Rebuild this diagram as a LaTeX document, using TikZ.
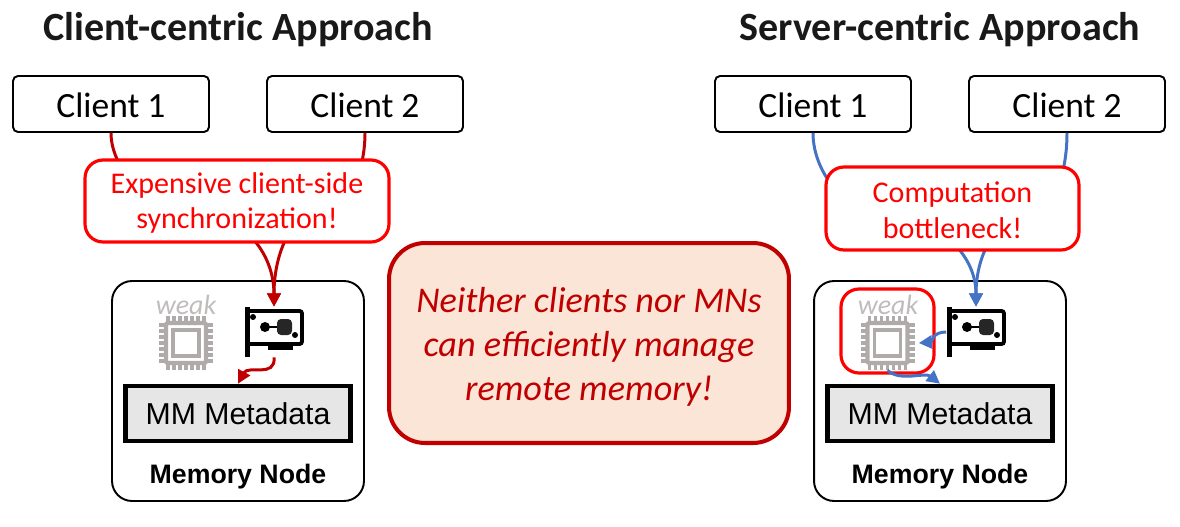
\documentclass[tikz,border=0pt]{standalone}
\usepackage{fontspec}
\usepackage{xcolor}
\usetikzlibrary{arrows.meta, positioning}
\setmainfont{Carlito}
\newfontfamily\arialfont{Liberation Sans}
\definecolor{wineRed}{HTML}{C00000}
\definecolor{blueLine}{HTML}{4472C4}
\definecolor{chipGray}{HTML}{AFABAB}
\definecolor{metaGray}{HTML}{E7E6E6}
\definecolor{alertFill}{HTML}{FBE5D6}
\tikzset{
    title/.style={font=\fontsize{22.8}{26}\selectfont\bfseries, text=black!90},
    client/.style={draw, rectangle, rounded corners=0.1cm, line width=1.1pt, minimum width=3.92cm, minimum height=1.12cm, fill=white},
    clienttext/.style={font=\fontsize{20.2}{24}\selectfont},
    callout/.style={draw=red, rectangle, rounded corners=0.36cm, line width=1.8pt, fill=white},
    callouttext/.style={text=red, align=center, font=\fontsize{17.1}{20.4}\selectfont},
    memnode/.style={draw, rectangle, rounded corners=0.4cm, line width=1.1pt, minimum width=5.04cm, minimum height=4.4cm},
    metadata/.style={draw, rectangle, line width=2.6pt, fill=metaGray, minimum width=4.5cm, minimum height=1.1cm, font=\arialfont\fontsize{17.2}{20}\selectfont},
    memlabel/.style={font=\arialfont\fontsize{15.2}{18}\selectfont\bfseries},
    weaklabel/.style={text=chipGray!80, font=\fontsize{15.9}{18}\selectfont\itshape},
    iconbox/.style={rectangle, inner sep=0pt, minimum width=1.18cm, minimum height=1cm},
    chipbox/.style={rectangle, inner sep=0pt, minimum width=1.24cm, minimum height=1.08cm},
    redflow/.style={draw=wineRed, line width=1.7pt, -{Triangle[length=7.5pt, width=7.5pt]}},
    blueflow/.style={draw=blueLine, line width=1.7pt, -{Triangle[length=7.5pt, width=7.5pt]}},
    plainred/.style={draw=wineRed, line width=1.7pt},
    plainblue/.style={draw=blueLine, line width=1.7pt},
    chipicon/.pic={
        \draw[chipGray, line width=2.4pt, rounded corners=0.04cm, fill=white] (-20,-20) rectangle (20,20);
        \draw[chipGray, line width=2pt] (-13,-13) rectangle (13,13);
        \foreach \k in {-18,-12,-6,0,6,12,18} {
            \draw[chipGray, line width=2pt] (\k,-27) -- (\k,-20);
            \draw[chipGray, line width=2pt] (\k,20) -- (\k,27);
            \draw[chipGray, line width=2pt] (-27,\k) -- (-20,\k);
            \draw[chipGray, line width=2pt] (20,\k) -- (27,\k);
        }
    },
    nicicon/.pic={
        \fill[black] (-29,-25) rectangle (-24,25);
        \draw[black, line width=2.2pt, rounded corners=0.05cm] (-24,-21) -- (28,-21) -- (28,12) -- (-24,12);
        \fill[black] (-6,13) rectangle (19,18);
        \fill[black] (-9,-5) circle (5);
        \fill[black!85, rounded corners=0.08cm] (3,-13) rectangle (18,3);
        \draw[black, line width=1.2pt] (-9,-5) -- (3,-5);
        \fill[black] (-21,-15) circle (3);
        \fill[black] (21,3) circle (3);
    }
}
\begin{document}
\begin{tikzpicture}[x=0.02cm, y=-0.02cm]
    \useasboundingbox (0,0) rectangle (1180,527);

    % left side
    \node[title] (titleL) at (238,30) {Client-centric Approach};
    \node[client] (clientLa) at (111,104) {};
    \node[client] (clientLb) at (365,104) {};
    \node[clienttext] (labelLa) at (111,105) {Client 1};
    \node[clienttext] (labelLb) at (365,105) {Client 2};
    \node[memnode] (memL) at (238,391) {};
    \node[metadata] (metaL) at (238,413.5) {MM Metadata};
    \node[memlabel] (memtextL) at (238,477) {Memory Node};
    \node[weaklabel] (weakL) at (186,305) {weak};
    \node[chipbox] (chipL) at (186,343) {};
    \node[iconbox] (nicL) at (274,332) {};
    \pic at (chipL) {chipicon};
    \pic at (nicL) {nicicon};

    \draw[plainred] (clientLa.south) .. controls (111,170) and (150,210) .. (192,210);
    \draw[redflow] (192,210) .. controls (232,210) and (274,245) .. (nicL.north);
    \draw[plainred] (clientLb.south) .. controls (365,170) and (350,210) .. (320,210);
    \draw[redflow] (320,210) .. controls (298,210) and (274,245) .. (nicL.north);
    \draw[redflow] (nicL.south) .. controls (276,378) and (248,365) .. (metaL.north);
    \node[callout, minimum width=6.08cm, minimum height=1.64cm] (costL) at (237,201) {};
    \node[callouttext] (costtextL) at (237,203) {Expensive client-side\\synchronization!};

    % right side
    \node[title] (titleR) at (940,30) {Server-centric Approach};
    \node[client] (clientRa) at (813,104) {};
    \node[client] (clientRb) at (1067,104) {};
    \node[clienttext] (labelRa) at (813,105) {Client 1};
    \node[clienttext] (labelRb) at (1067,105) {Client 2};
    \node[memnode] (memR) at (940,391) {};
    \node[metadata] (metaR) at (940,413.5) {MM Metadata};
    \node[memlabel] (memtextR) at (940,477) {Memory Node};
    \node[weaklabel] (weakR) at (888,305) {weak};
    \node[chipbox] (chipR) at (887.5,343) {};
    \node[iconbox] (nicR) at (976,332) {};
    \pic at (chipR) {chipicon};
    \pic at (nicR) {nicicon};
    \draw[red, line width=1.8pt, rounded corners=0.36cm] (841,289) rectangle (934,373);

    \draw[plainblue] (clientRa.south) .. controls (813,175) and (850,218) .. (895,218);
    \draw[blueflow] (895,218) .. controls (932,218) and (976,250) .. (nicR.north);
    \draw[plainblue] (clientRb.south) .. controls (1067,180) and (1050,218) .. (1021,218);
    \draw[blueflow] (1021,218) .. controls (1000,218) and (976,250) .. (nicR.north);
    \draw[blueflow] (nicR.west) .. controls (932,332) and (932,342) .. (chipR.east);
    \draw[blueflow] (chipR.south) .. controls (900,382) and (925,372) .. (metaR.north);
    \node[callout, minimum width=5.06cm, minimum height=1.66cm] (costR) at (952.5,208.5) {};
    \node[callouttext] (costtextR) at (952.5,210.5) {Computation\\bottleneck!};

    % middle
    \node[draw=wineRed, rectangle, rounded corners=0.72cm, line width=2.3pt, fill=alertFill, minimum width=8cm, minimum height=4cm] (alert) at (589,343) {};
    \node[text=wineRed, align=center, font=\fontsize{20.6}{25}\selectfont\itshape] (alertText) at (589,347) {Neither clients nor MNs\\can efficiently manage\\remote memory!};
\end{tikzpicture}
\end{document}
